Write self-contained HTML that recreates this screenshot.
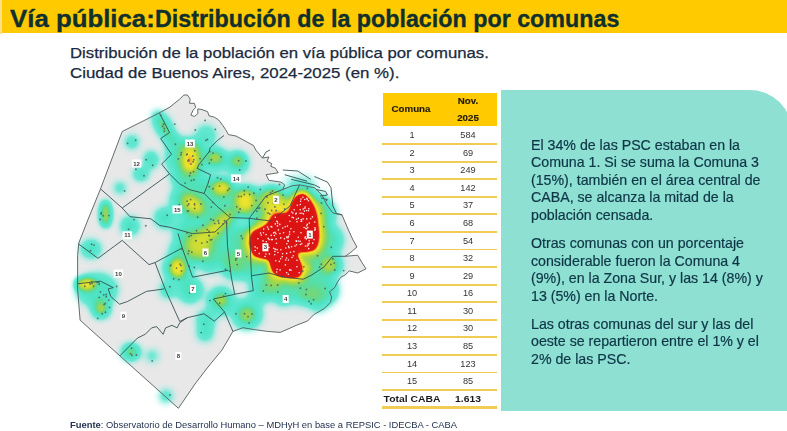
<!DOCTYPE html>
<html><head><meta charset="utf-8"><style>
html,body{margin:0;padding:0;}
body{width:787px;height:431px;position:relative;overflow:hidden;background:#fff;font-family:"Liberation Sans",sans-serif;}
.hdr{position:absolute;left:0;top:0;width:787px;height:33px;background:#ffcb00;}
.hdr .edge{position:absolute;left:0;top:0;width:2px;height:33.5px;background:#fde08a;}
.t1{position:absolute;top:4.8px;-webkit-text-stroke:0.35px #10302e;left:10px;font-size:24px;font-weight:700;color:#10302e;white-space:nowrap;line-height:28px;}
.sub{position:absolute;left:70.5px;font-size:14.7px;color:#1a2a40;-webkit-text-stroke:0.25px #1a2a40;white-space:nowrap;transform-origin:0 0;line-height:18px;}
.row{position:absolute;left:383px;width:114px;font-size:8.5px;color:#333;}
.row span{position:absolute;top:50%;transform:translate(-50%,-50%) scaleX(1.08);white-space:nowrap;line-height:10px;}
.c1{left:29px;} .c2{left:85px;}
.tot{font-weight:700;color:#1a1a1a;font-size:9.6px;}
.tot .c1{left:28.5px;}
.ln{position:absolute;left:382px;width:115px;height:1.8px;background:#efcd52;}
.th{position:absolute;left:383px;top:92.6px;width:114px;height:33.2px;background:#ffcb00;color:#241a05;font-weight:700;font-size:8.6px;}
.th span{position:absolute;transform:translate(-50%,-50%) scaleX(1.13);-webkit-text-stroke:0.15px #241a05;white-space:nowrap;line-height:10px;}
.box{position:absolute;left:501px;top:90.4px;width:291px;height:320.6px;background:#8ee0d3;border-top-right-radius:42px;}
.p{position:absolute;left:531px;font-size:14.2px;color:#0f3646;-webkit-text-stroke:0.2px #0f3646;white-space:nowrap;line-height:17.5px;}
.foot{position:absolute;left:70px;top:418.8px;font-size:9.4px;color:#243350;white-space:nowrap;line-height:12px;}
svg text{font-family:"Liberation Sans",sans-serif;}
</style></head><body>
<div class="hdr"><div class="edge"></div></div>
<div class="t1" style="left:10px;transform:scaleX(1.075);transform-origin:0 0">Vía pública:</div><div class="t1" style="left:155px;transform:scaleX(0.97);transform-origin:0 0">Distribución de la población por comunas</div>
<div class="sub" style="top:44px;left:69.5px;transform:scaleX(1.14)">Distribución de la población en vía pública por comunas.</div>
<div class="sub" style="top:64px;left:69.5px;transform:scaleX(1.146)">Ciudad de Buenos Aires, 2024-2025 (en %).</div>
<svg width="787" height="431" viewBox="0 0 787 431" style="position:absolute;left:0;top:0">
<defs>
<filter id="heat" x="0" y="0" width="787" height="431" filterUnits="userSpaceOnUse" color-interpolation-filters="sRGB">
<feColorMatrix type="matrix" values="0 0 0 1 0  0 0 0 1 0  0 0 0 1 0  0 0 0 1 0"/>
<feComponentTransfer>
<feFuncR type="table" tableValues="0.471 0.471 0.471 0.455 0.429 0.403 0.376 0.350 0.341 0.336 0.330 0.325 0.320 0.315 0.310 0.304 0.299 0.311 0.326 0.342 0.358 0.373 0.389 0.424 0.463 0.502 0.541 0.580 0.620 0.654 0.686 0.719 0.752 0.784 0.817 0.842 0.865 0.888 0.910 0.933 0.956 0.961 0.961 0.961 0.961 0.961 0.939 0.917 0.895 0.882 0.880 0.878 0.877 0.875 0.873 0.871 0.870 0.868 0.866 0.864 0.863"/>
<feFuncG type="table" tableValues="0.922 0.922 0.922 0.920 0.918 0.915 0.913 0.910 0.908 0.907 0.905 0.903 0.901 0.900 0.898 0.896 0.894 0.889 0.882 0.876 0.869 0.863 0.856 0.853 0.850 0.848 0.845 0.842 0.840 0.843 0.849 0.854 0.859 0.864 0.870 0.874 0.878 0.882 0.885 0.889 0.893 0.843 0.779 0.716 0.652 0.588 0.455 0.322 0.190 0.109 0.106 0.103 0.100 0.098 0.095 0.092 0.089 0.087 0.084 0.081 0.078"/>
<feFuncB type="table" tableValues="0.863 0.863 0.863 0.857 0.847 0.837 0.827 0.818 0.812 0.808 0.803 0.799 0.795 0.790 0.786 0.782 0.777 0.746 0.708 0.670 0.632 0.595 0.557 0.515 0.473 0.430 0.388 0.345 0.303 0.281 0.265 0.248 0.232 0.216 0.199 0.193 0.190 0.187 0.184 0.180 0.177 0.170 0.162 0.154 0.145 0.137 0.123 0.109 0.095 0.086 0.085 0.085 0.084 0.083 0.083 0.082 0.081 0.080 0.080 0.079 0.078"/>
<feFuncA type="table" tableValues="0.000 0.125 0.250 0.375 0.500 0.625 0.750 0.875 0.909 0.920 0.931 0.942 0.953 0.964 0.976 0.987 0.998 1.000 1.000 1.000 1.000 1.000 1.000 1.000 1.000 1.000 1.000 1.000 1.000 1.000 1.000 1.000 1.000 1.000 1.000 1.000 1.000 1.000 1.000 1.000 1.000 1.000 1.000 1.000 1.000 1.000 1.000 1.000 1.000 1.000 1.000 1.000 1.000 1.000 1.000 1.000 1.000 1.000 1.000 1.000 1.000"/>
</feComponentTransfer>
</filter>
<filter id="b5" x="0" y="0" width="787" height="431" filterUnits="userSpaceOnUse"><feGaussianBlur stdDeviation="5"/></filter>
<filter id="b4" x="0" y="0" width="787" height="431" filterUnits="userSpaceOnUse"><feGaussianBlur stdDeviation="4"/></filter>
<filter id="b3" x="0" y="0" width="787" height="431" filterUnits="userSpaceOnUse"><feGaussianBlur stdDeviation="3"/></filter>
<filter id="b35" x="0" y="0" width="787" height="431" filterUnits="userSpaceOnUse"><feGaussianBlur stdDeviation="3.5"/></filter>
<filter id="b25" x="0" y="0" width="787" height="431" filterUnits="userSpaceOnUse"><feGaussianBlur stdDeviation="2.5"/></filter>
<filter id="b2" x="0" y="0" width="787" height="431" filterUnits="userSpaceOnUse"><feGaussianBlur stdDeviation="2"/></filter>
<filter id="b15" x="0" y="0" width="787" height="431" filterUnits="userSpaceOnUse"><feGaussianBlur stdDeviation="1.5"/></filter>
<mask id="rm" maskUnits="userSpaceOnUse" x="0" y="0" width="787" height="431"><rect x="0" y="0" width="787" height="431" fill="#fff"/><path d="M300.8,195.0 L304.4,195.2 L308.8,199.4 L312.6,206.6 L315.3,216.3 L317.0,228.2 L317.5,235.9 L316.4,244.2 L313.7,249.1 L304.6,250.9 L295.2,251.7 L297.9,259.3 L300.5,265.9 L300.6,272.2 L298.5,275.5 L292.2,276.6 L280.3,275.3 L273.9,271.6 L271.4,265.2 L269.7,258.9 L262.1,257.2 L254.3,254.8 L252.0,248.5 L251.1,243.6 L252.0,235.8 L254.3,232.3 L260.9,229.7 L266.9,226.8 L271.2,220.9 L273.7,217.0 L277.3,215.9 L287.4,215.0 L290.8,211.0 L293.0,203.9 L296.2,197.4Z" fill="#000"/></mask>
</defs>
<polygon points="179.7,99.1 183.9,95 187.4,95 190.2,99.1 189.5,103.3 194.4,103.3 195.7,107.5 193,110.3 190.9,115.1 194.4,116.5 197.8,113.7 197.8,108.9 202,109.6 207.6,111.7 209,115.8 214.5,117.2 218.7,120 222.9,125.6 225.7,129.7 228.4,134.6 236,136 253.5,145.5 255.8,150 262.4,158 269,157 267,161 271.7,163.6 270.8,166.3 275.4,168.2 278.2,172.8 266.1,174.7 268.9,180.3 281,182.1 284.7,184.9 282.8,189.5 292,185.8 299.5,184.9 314.4,187.7 322,195 327,205 333,213 342,215 348,229 353,240 357,247 350,253 345.2,256.3 357.7,255.2 361.9,262.5 366,268.8 357.7,273 349.3,270.9 345.2,275 341,277.1 337.9,281.3 334.7,287.6 329.5,291.8 331.6,297 330.5,302.2 324.3,308.5 313.8,314.7 307.6,321 297,325 289,328.6 280.2,332.4 267.2,331.4 254.2,329.6 243,327.7 232.9,331.4 222,350 208,367 195,384 178.4,408.3 80.1,320.2 78.8,304.2 77.6,288.9 77.6,255.7 78.8,243 87.8,220 100.5,188.9 122.2,131.5 159.1,113 170,107" fill="#e8e8e8"/>
<g filter="url(#heat)" fill="#000"><g opacity="0.30" filter="url(#b5)"><circle cx="176" cy="146" r="9.6"/><circle cx="190" cy="157" r="18.0"/><circle cx="186" cy="175" r="14.399999999999999"/><circle cx="196" cy="168" r="9.6"/><circle cx="216" cy="159" r="10.799999999999999"/><circle cx="237" cy="163" r="10.799999999999999"/><circle cx="176" cy="160" r="9.6"/><circle cx="209" cy="188" r="12.0"/><circle cx="222" cy="192" r="14.399999999999999"/><circle cx="246" cy="203" r="16.8"/><circle cx="265" cy="204" r="15.6"/><circle cx="272" cy="198" r="9.6"/><circle cx="184" cy="200" r="13.2"/><circle cx="194" cy="205" r="18.0"/><circle cx="218" cy="215" r="16.8"/><circle cx="165" cy="218" r="9.6"/><circle cx="204" cy="245" r="21.599999999999998"/><circle cx="185" cy="232" r="10.799999999999999"/><circle cx="178" cy="268" r="14.399999999999999"/><circle cx="190" cy="290" r="12.0"/><circle cx="168" cy="290" r="7.199999999999999"/><circle cx="236" cy="262" r="16.8"/><circle cx="238" cy="238" r="13.2"/><circle cx="210" cy="262" r="9.6"/><circle cx="180" cy="250" r="9.6"/><circle cx="221" cy="301" r="13.2"/><circle cx="247" cy="314" r="14.399999999999999"/><circle cx="262" cy="290" r="12.0"/><circle cx="284" cy="294" r="10.799999999999999"/><circle cx="304" cy="290" r="14.399999999999999"/><circle cx="322" cy="290" r="15.6"/><circle cx="330" cy="265" r="12.0"/><circle cx="318" cy="302" r="8.4"/><circle cx="206" cy="320" r="8.4"/><circle cx="205" cy="333" r="7.199999999999999"/><circle cx="322" cy="214" r="13.2"/><circle cx="328" cy="240" r="14.399999999999999"/><circle cx="318" cy="263" r="14.399999999999999"/><circle cx="300" cy="283" r="13.2"/><circle cx="270" cy="283" r="13.2"/><circle cx="250" cy="268" r="12.0"/><circle cx="245" cy="240" r="10.799999999999999"/><circle cx="262" cy="222" r="10.799999999999999"/><circle cx="280" cy="208" r="12.0"/></g><path d="M299.1,186.6 L307.8,187.4 L315.6,194.2 L320.5,203.4 L323.7,214.6 L325.5,227.3 L326.0,236.3 L324.4,247.0 L318.7,256.0 L305.6,259.4 L302.4,256.3 L305.8,256.0 L308.9,264.3 L308.7,274.6 L303.2,282.5 L292.6,285.1 L277.6,283.3 L267.5,277.2 L263.3,267.7 L263.9,265.1 L259.9,265.5 L248.5,261.0 L243.9,250.8 L242.6,244.0 L244.0,232.9 L248.8,225.7 L257.5,221.9 L261.4,220.2 L264.3,216.0 L268.6,210.2 L275.6,207.5 L283.5,207.5 L283.3,207.0 L285.1,200.7 L290.1,191.4Z" opacity="0.28" filter="url(#b5)"/><g opacity="0.29" filter="url(#b4)"><ellipse cx="132" cy="142" rx="6" ry="6"/></g><g opacity="0.32" filter="url(#b4)"><ellipse cx="151" cy="160" rx="6" ry="8"/></g><g opacity="0.32" filter="url(#b4)"><ellipse cx="141" cy="174" rx="7" ry="6"/></g><g opacity="0.29" filter="url(#b4)"><ellipse cx="120" cy="188" rx="5" ry="5"/></g><g opacity="0.34" filter="url(#b4)"><ellipse cx="164" cy="127" rx="7" ry="17" transform="rotate(-30 164 127)"/></g><g opacity="0.16" filter="url(#b2)"><ellipse cx="164" cy="127" rx="2" ry="10" transform="rotate(-30 164 127)"/></g><g opacity="0.53" filter="url(#b3)"><ellipse cx="105.6" cy="214" rx="5" ry="13"/></g><g opacity="0.35" filter="url(#b5)"><ellipse cx="130" cy="226" rx="8" ry="8"/></g><g opacity="0.32" filter="url(#b5)"><ellipse cx="91" cy="249" rx="9" ry="8"/></g><g opacity="0.58" filter="url(#b3)"><ellipse cx="86" cy="284" rx="10" ry="6"/></g><g opacity="0.26" filter="url(#b5)"><ellipse cx="97" cy="290" rx="20" ry="16"/></g><g opacity="0.48" filter="url(#b4)"><ellipse cx="101" cy="309" rx="8" ry="8"/></g><g opacity="0.13" filter="url(#b2)"><ellipse cx="101" cy="309" rx="3" ry="3"/></g><g opacity="0.48" filter="url(#b4)"><ellipse cx="131" cy="352" rx="8" ry="7"/></g><g opacity="0.19" filter="url(#b4)"><ellipse cx="152" cy="356" rx="6" ry="6"/></g><g opacity="0.24" filter="url(#b4)"><ellipse cx="166" cy="396" rx="6" ry="6"/></g><g opacity="0.20" filter="url(#b5)"><ellipse cx="206" cy="136" rx="10" ry="11"/></g><g opacity="0.55" filter="url(#b4)"><ellipse cx="190" cy="159" rx="8" ry="15"/></g><g opacity="0.28" filter="url(#b3)"><ellipse cx="190" cy="161" rx="4" ry="6"/></g><g opacity="0.30" filter="url(#b3)"><ellipse cx="215" cy="157.5" rx="7" ry="6"/></g><g opacity="0.27" filter="url(#b3)"><ellipse cx="238" cy="160" rx="6" ry="6"/></g><g opacity="0.45" filter="url(#b3)"><ellipse cx="221.7" cy="188" rx="9" ry="7"/></g><g opacity="0.55" filter="url(#b4)"><ellipse cx="245" cy="201" rx="9" ry="11"/></g><g opacity="0.40" filter="url(#b4)"><ellipse cx="273.5" cy="202" rx="13" ry="14"/></g><g opacity="0.12" filter="url(#b5)"><ellipse cx="300" cy="184" rx="16" ry="8"/></g><g opacity="0.10" filter="url(#b5)"><ellipse cx="322" cy="200" rx="8" ry="8"/></g><g opacity="0.55" filter="url(#b4)"><ellipse cx="193" cy="204.5" rx="12" ry="6.5" transform="rotate(40 193 204.5)"/></g><g opacity="0.42" filter="url(#b4)"><ellipse cx="221" cy="223" rx="17" ry="6" transform="rotate(-40 221 223)"/></g><g opacity="0.30" filter="url(#b4)"><ellipse cx="210" cy="233" rx="12" ry="5"/></g><g opacity="0.38" filter="url(#b4)"><ellipse cx="199" cy="245" rx="13" ry="13"/></g><g opacity="0.55" filter="url(#b3)"><ellipse cx="177.6" cy="268" rx="7" ry="9"/></g><g opacity="0.15" filter="url(#b4)"><ellipse cx="235" cy="262" rx="10" ry="10"/></g><g opacity="0.30" filter="url(#b3)"><ellipse cx="329" cy="265" rx="8" ry="8"/></g><g opacity="0.15" filter="url(#b4)"><ellipse cx="312" cy="294" rx="12" ry="8"/></g><g opacity="0.30" filter="url(#b3)"><ellipse cx="221" cy="300" rx="6" ry="6"/></g><g opacity="0.25" filter="url(#b3)"><ellipse cx="247" cy="315" rx="7" ry="7"/></g><g opacity="0.20" filter="url(#b4)"><ellipse cx="272" cy="286" rx="8" ry="7"/></g><g opacity="0.25" filter="url(#b3)"><ellipse cx="307" cy="268" rx="5" ry="5"/></g><path d="M299.5,188.6 L307.0,189.2 L314.0,195.5 L318.6,204.1 L321.7,215.0 L323.5,227.5 L324.0,236.2 L322.5,246.3 L317.6,254.3 L305.4,257.4 L300.7,255.2 L303.9,256.8 L306.9,264.7 L306.8,274.0 L302.1,280.8 L292.5,283.1 L278.2,281.4 L269.0,275.9 L265.2,267.1 L265.2,263.6 L260.4,263.5 L249.8,259.5 L245.8,250.3 L244.6,243.9 L245.9,233.6 L250.1,227.2 L258.3,223.7 L262.7,221.8 L265.9,217.1 L269.8,211.8 L276.0,209.5 L284.4,209.3 L285.1,207.9 L287.0,201.5 L291.5,192.8Z" opacity="0.3" filter="url(#b3)"/><path d="M300.5,193.5 L305.0,193.8 L310.0,198.5 L314.0,206.0 L316.8,216.0 L318.5,228.0 L319.0,236.0 L317.8,244.7 L314.6,250.3 L304.8,252.4 L296.5,252.5 L299.3,258.7 L302.0,265.6 L302.0,272.6 L299.3,276.7 L292.3,278.1 L279.8,276.7 L272.8,272.6 L270.0,265.6 L268.7,260.0 L261.7,258.7 L253.3,255.9 L250.6,248.9 L249.6,243.7 L250.6,235.3 L253.3,231.1 L260.3,228.3 L265.9,225.6 L270.0,220.0 L272.8,215.8 L277.0,214.4 L286.7,213.7 L289.5,210.3 L291.6,203.3 L295.1,196.3Z" filter="url(#b2)"/></g>
<g fill="none" stroke="#2f4848" stroke-width="0.85" stroke-linejoin="round" mask="url(#rm)"><polyline points="159.5,113.2 169.5,132.6 160.7,138.5 171.5,154.2 161.7,164.1 169.5,173.9"/><polyline points="100.5,188.9 122.2,208 169.5,173.9"/><polyline points="122.2,208 130,216.7 150.9,218.8 159.8,225.5 169.5,227.2 192.3,233.6 215,232 230.1,217.5 249.2,218.3 271,221"/><polyline points="169.5,173.9 179.4,183.7 190,189.8 204.1,193.4 217.1,206.4 230.1,217.5"/><polyline points="224,135.5 217.5,140.4 210.1,147.8 209.2,151.6 199,164.5 197.1,168.3 210.6,174.8 207.8,184.1 204.1,193.4"/><polyline points="282.8,189.5 266,196 250.7,216.3 249.2,218.3"/><polyline points="249.2,218.3 250,240 251.4,275.8 253.3,290.6"/><polyline points="178,233.4 182.2,248 192.6,277.2 228.2,270.2"/><polyline points="226.5,220.7 227.5,246.3 231.3,277 234.7,294.3 253.3,290.6"/><polyline points="251.4,275.8 269,273 282.5,277 303.4,279.2 311.8,275 324.3,266.7 332.6,256.3 345.2,256.3"/><polyline points="271,221 290,206 299.5,184.9"/><polyline points="271,221 276,250 282.5,277"/><polyline points="234.7,294.3 213.4,299 224.5,312 232.9,331.4"/><polyline points="187.3,317.7 204.1,313.8 214.3,321.2 224.5,312"/><polyline points="155,262.6 165.5,290 171.9,304.2 179.7,321.5 187.3,317.7"/><polyline points="78.8,244.2 98,258.3 122.2,240.4 149,264.6 155,262.6 182.2,248"/><polyline points="77.6,283.8 100.5,281.2 113.3,287.6 108.2,288.9 110.7,296.5 119.6,304.2 127.3,301.6 146.4,291.4 164.3,288.9"/><polyline points="119.7,356 137.5,338 145.2,334.3 151.6,327.9 156.7,326.6 163.1,334.3 165.6,327.9 172,325.3 177.1,327.9 179.7,322.8 187.3,317.7"/><polyline points="282.8,170 297.7,171 310.7,179.3"/><polyline points="284.7,174.7 307,181.2"/><polyline points="291.2,179.3 314.4,184.9 320,187.7"/><polyline points="316,189.5 325.5,191.4 327.4,195 320,196"/><polyline points="321,197.9 327.4,199.7 325.5,201.6"/><polyline points="314.4,176.5 327.4,182.1 331,187.7 332.9,206.2 336.6,213.7 342.2,214.6"/><polyline points="262.4,158 266,152 270,150"/></g>
<polygon points="179.7,99.1 183.9,95 187.4,95 190.2,99.1 189.5,103.3 194.4,103.3 195.7,107.5 193,110.3 190.9,115.1 194.4,116.5 197.8,113.7 197.8,108.9 202,109.6 207.6,111.7 209,115.8 214.5,117.2 218.7,120 222.9,125.6 225.7,129.7 228.4,134.6 236,136 253.5,145.5 255.8,150 262.4,158 269,157 267,161 271.7,163.6 270.8,166.3 275.4,168.2 278.2,172.8 266.1,174.7 268.9,180.3 281,182.1 284.7,184.9 282.8,189.5 292,185.8 299.5,184.9 314.4,187.7 322,195 327,205 333,213 342,215 348,229 353,240 357,247 350,253 345.2,256.3 357.7,255.2 361.9,262.5 366,268.8 357.7,273 349.3,270.9 345.2,275 341,277.1 337.9,281.3 334.7,287.6 329.5,291.8 331.6,297 330.5,302.2 324.3,308.5 313.8,314.7 307.6,321 297,325 289,328.6 280.2,332.4 267.2,331.4 254.2,329.6 243,327.7 232.9,331.4 222,350 208,367 195,384 178.4,408.3 80.1,320.2 78.8,304.2 77.6,288.9 77.6,255.7 78.8,243 87.8,220 100.5,188.9 122.2,131.5 159.1,113 170,107" fill="none" stroke="#555c5c" stroke-width="0.9" stroke-linejoin="round"/>
<g fill="#4a5e5e" opacity="0.8"><circle cx="127.6" cy="143.4" r="0.95"/><circle cx="135.6" cy="140.2" r="0.95"/><circle cx="146.2" cy="159.7" r="0.95"/><circle cx="152.7" cy="165.3" r="0.95"/><circle cx="135.9" cy="169.3" r="0.95"/><circle cx="144.0" cy="175.7" r="0.95"/><circle cx="124.6" cy="190.9" r="0.95"/><circle cx="163.6" cy="124.2" r="0.95"/><circle cx="174.8" cy="124.1" r="0.95"/><circle cx="160.7" cy="115.4" r="0.95"/><circle cx="164.4" cy="128.5" r="0.95"/><circle cx="162.6" cy="126.4" r="0.95"/><circle cx="164.3" cy="131.2" r="0.95"/><circle cx="108.9" cy="215.6" r="0.95"/><circle cx="100.2" cy="219.5" r="0.95"/><circle cx="101.3" cy="212.7" r="0.95"/><circle cx="101.2" cy="214.0" r="0.95"/><circle cx="103.3" cy="215.7" r="0.95"/><circle cx="145.8" cy="225.8" r="0.95"/><circle cx="134.0" cy="219.6" r="0.95"/><circle cx="128.6" cy="229.2" r="0.95"/><circle cx="90.5" cy="250.8" r="0.95"/><circle cx="91.6" cy="244.2" r="0.95"/><circle cx="94.0" cy="245.1" r="0.95"/><circle cx="97.2" cy="282.2" r="0.95"/><circle cx="90.1" cy="284.0" r="0.95"/><circle cx="91.7" cy="281.8" r="0.95"/><circle cx="92.0" cy="283.6" r="0.95"/><circle cx="93.6" cy="286.2" r="0.95"/><circle cx="98.7" cy="282.5" r="0.95"/><circle cx="106.2" cy="294.5" r="0.95"/><circle cx="116.7" cy="286.4" r="0.95"/><circle cx="103.7" cy="294.9" r="0.95"/><circle cx="100.4" cy="292.0" r="0.95"/><circle cx="99.2" cy="284.3" r="0.95"/><circle cx="84.8" cy="286.2" r="0.95"/><circle cx="104.1" cy="304.5" r="0.95"/><circle cx="108.7" cy="300.1" r="0.95"/><circle cx="106.3" cy="296.7" r="0.95"/><circle cx="99.2" cy="297.4" r="0.95"/><circle cx="109.5" cy="307.4" r="0.95"/><circle cx="97.7" cy="318.4" r="0.95"/><circle cx="102.2" cy="313.7" r="0.95"/><circle cx="105.2" cy="303.5" r="0.95"/><circle cx="105.4" cy="312.2" r="0.95"/><circle cx="131.8" cy="355.2" r="0.95"/><circle cx="131.6" cy="348.3" r="0.95"/><circle cx="130.5" cy="353.6" r="0.95"/><circle cx="136.4" cy="355.0" r="0.95"/><circle cx="152.2" cy="360.9" r="0.95"/><circle cx="170.0" cy="394.9" r="0.95"/><circle cx="195.3" cy="130.0" r="0.95"/><circle cx="207.4" cy="139.5" r="0.95"/><circle cx="215.3" cy="129.4" r="0.95"/><circle cx="206.0" cy="140.3" r="0.95"/><circle cx="205.1" cy="120.4" r="0.95"/><circle cx="193.9" cy="179.8" r="0.95"/><circle cx="194.8" cy="150.7" r="0.95"/><circle cx="188.0" cy="161.0" r="0.95"/><circle cx="201.9" cy="164.6" r="0.95"/><circle cx="190.5" cy="173.0" r="0.95"/><circle cx="189.6" cy="175.8" r="0.95"/><circle cx="186.7" cy="154.7" r="0.95"/><circle cx="193.5" cy="171.8" r="0.95"/><circle cx="193.1" cy="161.7" r="0.95"/><circle cx="181.3" cy="152.6" r="0.95"/><circle cx="187.1" cy="154.2" r="0.95"/><circle cx="192.8" cy="156.0" r="0.95"/><circle cx="193.8" cy="159.7" r="0.95"/><circle cx="188.4" cy="160.1" r="0.95"/><circle cx="191.0" cy="164.1" r="0.95"/><circle cx="188.9" cy="160.2" r="0.95"/><circle cx="209.3" cy="163.3" r="0.95"/><circle cx="221.1" cy="156.9" r="0.95"/><circle cx="213.0" cy="153.1" r="0.95"/><circle cx="238.6" cy="160.7" r="0.95"/><circle cx="245.9" cy="160.9" r="0.95"/><circle cx="217.5" cy="177.7" r="0.95"/><circle cx="229.3" cy="188.8" r="0.95"/><circle cx="213.0" cy="188.8" r="0.95"/><circle cx="213.0" cy="202.6" r="0.95"/><circle cx="227.7" cy="190.4" r="0.95"/><circle cx="220.8" cy="179.0" r="0.95"/><circle cx="244.3" cy="190.7" r="0.95"/><circle cx="248.2" cy="186.9" r="0.95"/><circle cx="240.1" cy="209.0" r="0.95"/><circle cx="253.9" cy="193.2" r="0.95"/><circle cx="236.7" cy="206.8" r="0.95"/><circle cx="249.6" cy="194.5" r="0.95"/><circle cx="241.3" cy="196.4" r="0.95"/><circle cx="238.6" cy="196.5" r="0.95"/><circle cx="251.8" cy="205.6" r="0.95"/><circle cx="256.1" cy="200.4" r="0.95"/><circle cx="244.3" cy="194.5" r="0.95"/><circle cx="272.5" cy="191.0" r="0.95"/><circle cx="259.6" cy="207.9" r="0.95"/><circle cx="284.7" cy="209.0" r="0.95"/><circle cx="283.9" cy="204.1" r="0.95"/><circle cx="267.9" cy="202.7" r="0.95"/><circle cx="270.6" cy="192.7" r="0.95"/><circle cx="260.3" cy="189.5" r="0.95"/><circle cx="273.5" cy="203.3" r="0.95"/><circle cx="269.8" cy="214.0" r="0.95"/><circle cx="274.9" cy="206.9" r="0.95"/><circle cx="283.0" cy="195.1" r="0.95"/><circle cx="258.1" cy="208.3" r="0.95"/><circle cx="268.1" cy="213.0" r="0.95"/><circle cx="276.1" cy="210.5" r="0.95"/><circle cx="279.5" cy="184.5" r="0.95"/><circle cx="307.4" cy="188.2" r="0.95"/><circle cx="321.5" cy="202.9" r="0.95"/><circle cx="187.5" cy="205.5" r="0.95"/><circle cx="194.7" cy="208.4" r="0.95"/><circle cx="187.1" cy="201.3" r="0.95"/><circle cx="187.5" cy="211.3" r="0.95"/><circle cx="200.9" cy="204.0" r="0.95"/><circle cx="194.6" cy="204.9" r="0.95"/><circle cx="194.5" cy="203.7" r="0.95"/><circle cx="190.6" cy="199.6" r="0.95"/><circle cx="188.4" cy="210.9" r="0.95"/><circle cx="226.5" cy="223.2" r="0.95"/><circle cx="218.8" cy="223.2" r="0.95"/><circle cx="224.6" cy="220.7" r="0.95"/><circle cx="223.0" cy="223.9" r="0.95"/><circle cx="213.4" cy="220.2" r="0.95"/><circle cx="210.8" cy="219.2" r="0.95"/><circle cx="230.1" cy="214.5" r="0.95"/><circle cx="218.3" cy="220.8" r="0.95"/><circle cx="214.7" cy="223.4" r="0.95"/><circle cx="218.1" cy="233.2" r="0.95"/><circle cx="209.0" cy="231.2" r="0.95"/><circle cx="209.1" cy="235.7" r="0.95"/><circle cx="207.2" cy="229.6" r="0.95"/><circle cx="189.1" cy="236.4" r="0.95"/><circle cx="188.2" cy="253.6" r="0.95"/><circle cx="201.8" cy="243.1" r="0.95"/><circle cx="210.4" cy="239.9" r="0.95"/><circle cx="204.9" cy="251.2" r="0.95"/><circle cx="186.9" cy="232.9" r="0.95"/><circle cx="191.8" cy="252.1" r="0.95"/><circle cx="209.1" cy="235.4" r="0.95"/><circle cx="207.2" cy="242.0" r="0.95"/><circle cx="195.9" cy="240.7" r="0.95"/><circle cx="196.5" cy="230.8" r="0.95"/><circle cx="191.2" cy="235.4" r="0.95"/><circle cx="202.8" cy="261.3" r="0.95"/><circle cx="189.1" cy="266.2" r="0.95"/><circle cx="170.4" cy="265.8" r="0.95"/><circle cx="173.7" cy="278.7" r="0.95"/><circle cx="180.0" cy="264.1" r="0.95"/><circle cx="181.5" cy="270.9" r="0.95"/><circle cx="170.8" cy="265.1" r="0.95"/><circle cx="176.6" cy="268.1" r="0.95"/><circle cx="235.8" cy="260.0" r="0.95"/><circle cx="236.1" cy="258.5" r="0.95"/><circle cx="229.6" cy="271.1" r="0.95"/><circle cx="237.2" cy="264.6" r="0.95"/><circle cx="321.3" cy="264.2" r="0.95"/><circle cx="332.9" cy="258.8" r="0.95"/><circle cx="334.3" cy="263.1" r="0.95"/><circle cx="330.9" cy="264.4" r="0.95"/><circle cx="313.6" cy="299.8" r="0.95"/><circle cx="309.1" cy="301.5" r="0.95"/><circle cx="306.4" cy="289.5" r="0.95"/><circle cx="223.6" cy="296.2" r="0.95"/><circle cx="219.7" cy="303.3" r="0.95"/><circle cx="225.4" cy="293.6" r="0.95"/><circle cx="249.1" cy="322.9" r="0.95"/><circle cx="252.0" cy="314.0" r="0.95"/><circle cx="244.5" cy="313.8" r="0.95"/><circle cx="266.5" cy="284.9" r="0.95"/><circle cx="271.1" cy="285.4" r="0.95"/><circle cx="277.7" cy="285.0" r="0.95"/><circle cx="302.6" cy="271.2" r="0.95"/><circle cx="303.8" cy="266.7" r="0.95"/><circle cx="175.4" cy="144.3" r="0.95"/><circle cx="181.0" cy="154.8" r="0.95"/><circle cx="209.7" cy="151.5" r="0.95"/><circle cx="185.0" cy="183.1" r="0.95"/><circle cx="191.4" cy="180.5" r="0.95"/><circle cx="200.1" cy="158.6" r="0.95"/><circle cx="211.3" cy="159.7" r="0.95"/><circle cx="239.7" cy="170.0" r="0.95"/><circle cx="178.3" cy="158.9" r="0.95"/><circle cx="209.2" cy="186.7" r="0.95"/><circle cx="223.8" cy="196.9" r="0.95"/><circle cx="219.6" cy="186.1" r="0.95"/><circle cx="238.8" cy="212.2" r="0.95"/><circle cx="256.8" cy="211.3" r="0.95"/><circle cx="271.7" cy="210.5" r="0.95"/><circle cx="265.0" cy="209.2" r="0.95"/><circle cx="266.9" cy="197.0" r="0.95"/><circle cx="179.2" cy="204.8" r="0.95"/><circle cx="188.8" cy="204.0" r="0.95"/><circle cx="197.6" cy="217.2" r="0.95"/><circle cx="211.3" cy="207.1" r="0.95"/><circle cx="224.9" cy="205.7" r="0.95"/><circle cx="167.2" cy="215.3" r="0.95"/><circle cx="202.9" cy="225.3" r="0.95"/><circle cx="211.7" cy="239.6" r="0.95"/><circle cx="194.3" cy="267.4" r="0.95"/><circle cx="188.8" cy="250.9" r="0.95"/><circle cx="180.9" cy="265.5" r="0.95"/><circle cx="178.8" cy="279.6" r="0.95"/><circle cx="189.8" cy="292.7" r="0.95"/><circle cx="169.9" cy="286.7" r="0.95"/><circle cx="237.1" cy="257.8" r="0.95"/><circle cx="225.5" cy="269.3" r="0.95"/><circle cx="242.4" cy="238.5" r="0.95"/><circle cx="205.6" cy="252.4" r="0.95"/><circle cx="182.3" cy="249.5" r="0.95"/><circle cx="209.9" cy="300.6" r="0.95"/><circle cx="236.0" cy="313.8" r="0.95"/><circle cx="248.0" cy="316.6" r="0.95"/><circle cx="263.3" cy="291.0" r="0.95"/><circle cx="277.8" cy="291.9" r="0.95"/><circle cx="300.3" cy="288.3" r="0.95"/><circle cx="305.9" cy="294.5" r="0.95"/><circle cx="334.8" cy="270.0" r="0.95"/><circle cx="325.1" cy="288.5" r="0.95"/><circle cx="343.7" cy="270.6" r="0.95"/><circle cx="311.1" cy="303.7" r="0.95"/><circle cx="203.8" cy="324.2" r="0.95"/><circle cx="201.2" cy="332.6" r="0.95"/><circle cx="321.1" cy="213.4" r="0.95"/><circle cx="323.8" cy="226.8" r="0.95"/><circle cx="331.3" cy="247.2" r="0.95"/><circle cx="317.5" cy="255.7" r="0.95"/><circle cx="319.5" cy="267.1" r="0.95"/><circle cx="298.8" cy="282.9" r="0.95"/><circle cx="246.7" cy="256.6" r="0.95"/><circle cx="241.2" cy="236.0" r="0.95"/><circle cx="256.8" cy="218.3" r="0.95"/></g>
<g fill="#fff" opacity="0.9"><circle cx="307.7" cy="227.5" r="0.8"/><circle cx="304.1" cy="227.5" r="0.8"/><circle cx="301.0" cy="199.0" r="0.8"/><circle cx="273.6" cy="232.9" r="0.8"/><circle cx="295.0" cy="246.0" r="0.8"/><circle cx="297.0" cy="221.7" r="0.8"/><circle cx="296.5" cy="241.4" r="0.8"/><circle cx="287.4" cy="226.1" r="0.8"/><circle cx="293.3" cy="255.8" r="0.8"/><circle cx="267.5" cy="227.1" r="0.8"/><circle cx="288.6" cy="236.2" r="0.8"/><circle cx="307.3" cy="199.5" r="0.8"/><circle cx="292.0" cy="257.5" r="0.8"/><circle cx="260.5" cy="233.1" r="0.8"/><circle cx="261.2" cy="235.1" r="0.8"/><circle cx="286.9" cy="243.8" r="0.8"/><circle cx="275.3" cy="217.3" r="0.8"/><circle cx="296.2" cy="240.7" r="0.8"/><circle cx="269.4" cy="253.9" r="0.8"/><circle cx="277.1" cy="269.3" r="0.8"/><circle cx="302.9" cy="197.3" r="0.8"/><circle cx="279.9" cy="233.6" r="0.8"/><circle cx="286.7" cy="272.7" r="0.8"/><circle cx="301.0" cy="232.8" r="0.8"/><circle cx="293.9" cy="231.7" r="0.8"/><circle cx="280.9" cy="249.8" r="0.8"/><circle cx="290.9" cy="228.7" r="0.8"/><circle cx="305.0" cy="238.1" r="0.8"/><circle cx="301.9" cy="213.3" r="0.8"/><circle cx="305.5" cy="246.1" r="0.8"/><circle cx="298.3" cy="241.0" r="0.8"/><circle cx="291.6" cy="246.8" r="0.8"/><circle cx="303.2" cy="209.1" r="0.8"/><circle cx="268.5" cy="229.1" r="0.8"/><circle cx="255.2" cy="250.5" r="0.8"/><circle cx="288.6" cy="246.6" r="0.8"/><circle cx="275.9" cy="233.7" r="0.8"/><circle cx="307.3" cy="246.0" r="0.8"/><circle cx="304.4" cy="211.1" r="0.8"/><circle cx="307.3" cy="224.4" r="0.8"/><circle cx="272.4" cy="239.6" r="0.8"/><circle cx="279.8" cy="224.4" r="0.8"/><circle cx="289.6" cy="234.2" r="0.8"/><circle cx="298.3" cy="218.4" r="0.8"/><circle cx="304.8" cy="199.5" r="0.8"/><circle cx="264.4" cy="249.3" r="0.8"/><circle cx="274.8" cy="254.7" r="0.8"/><circle cx="300.1" cy="241.4" r="0.8"/><circle cx="314.8" cy="230.2" r="0.8"/><circle cx="306.8" cy="218.9" r="0.8"/><circle cx="271.9" cy="227.0" r="0.8"/><circle cx="275.3" cy="223.9" r="0.8"/><circle cx="277.5" cy="225.9" r="0.8"/><circle cx="263.0" cy="240.9" r="0.8"/><circle cx="306.4" cy="238.9" r="0.8"/><circle cx="309.2" cy="240.8" r="0.8"/><circle cx="312.4" cy="216.9" r="0.8"/><circle cx="288.2" cy="241.2" r="0.8"/><circle cx="306.9" cy="198.4" r="0.8"/><circle cx="288.4" cy="260.0" r="0.8"/><circle cx="255.1" cy="246.9" r="0.8"/><circle cx="295.7" cy="213.9" r="0.8"/><circle cx="286.6" cy="258.0" r="0.8"/><circle cx="277.4" cy="221.7" r="0.8"/><circle cx="284.5" cy="238.7" r="0.8"/><circle cx="314.9" cy="227.9" r="0.8"/><circle cx="286.7" cy="253.4" r="0.8"/><circle cx="306.8" cy="228.8" r="0.8"/><circle cx="263.7" cy="229.1" r="0.8"/><circle cx="257.3" cy="248.1" r="0.8"/><circle cx="304.9" cy="208.3" r="0.8"/><circle cx="291.1" cy="270.3" r="0.8"/><circle cx="265.9" cy="254.0" r="0.8"/><circle cx="291.8" cy="212.0" r="0.8"/><circle cx="271.4" cy="239.6" r="0.8"/><circle cx="307.8" cy="233.8" r="0.8"/><circle cx="314.8" cy="222.1" r="0.8"/><circle cx="288.4" cy="274.3" r="0.8"/><circle cx="306.7" cy="225.7" r="0.8"/><circle cx="287.0" cy="236.8" r="0.8"/><circle cx="296.3" cy="213.2" r="0.8"/><circle cx="275.8" cy="260.7" r="0.8"/><circle cx="300.4" cy="244.5" r="0.8"/><circle cx="311.6" cy="236.9" r="0.8"/><circle cx="268.2" cy="238.4" r="0.8"/><circle cx="300.6" cy="201.3" r="0.8"/><circle cx="283.6" cy="232.8" r="0.8"/><circle cx="310.7" cy="218.8" r="0.8"/><circle cx="305.8" cy="228.4" r="0.8"/><circle cx="308.5" cy="210.7" r="0.8"/><circle cx="288.1" cy="237.7" r="0.8"/><circle cx="282.6" cy="253.8" r="0.8"/><circle cx="274.9" cy="251.4" r="0.8"/><circle cx="308.7" cy="248.6" r="0.8"/><circle cx="300.1" cy="213.2" r="0.8"/><circle cx="289.6" cy="231.9" r="0.8"/><circle cx="306.6" cy="210.6" r="0.8"/><circle cx="293.4" cy="217.7" r="0.8"/><circle cx="276.1" cy="238.9" r="0.8"/><circle cx="277.2" cy="249.7" r="0.8"/><circle cx="301.7" cy="221.0" r="0.8"/><circle cx="301.1" cy="221.2" r="0.8"/><circle cx="308.5" cy="200.8" r="0.8"/><circle cx="309.3" cy="243.4" r="0.8"/><circle cx="315.3" cy="229.3" r="0.8"/><circle cx="285.8" cy="248.0" r="0.8"/><circle cx="276.8" cy="221.2" r="0.8"/><circle cx="277.9" cy="252.5" r="0.8"/><circle cx="296.5" cy="244.7" r="0.8"/><circle cx="273.6" cy="248.3" r="0.8"/><circle cx="285.7" cy="260.0" r="0.8"/><circle cx="308.4" cy="245.0" r="0.8"/><circle cx="314.0" cy="239.6" r="0.8"/><circle cx="274.4" cy="235.5" r="0.8"/><circle cx="259.2" cy="253.6" r="0.8"/><circle cx="294.2" cy="209.8" r="0.8"/><circle cx="290.5" cy="252.3" r="0.8"/><circle cx="275.0" cy="232.4" r="0.8"/><circle cx="288.1" cy="240.7" r="0.8"/><circle cx="289.3" cy="215.5" r="0.8"/><circle cx="307.9" cy="244.1" r="0.8"/><circle cx="266.3" cy="241.8" r="0.8"/><circle cx="308.8" cy="208.8" r="0.8"/><circle cx="296.4" cy="219.2" r="0.8"/><circle cx="276.5" cy="243.3" r="0.8"/><circle cx="263.4" cy="232.8" r="0.8"/><circle cx="289.9" cy="221.2" r="0.8"/><circle cx="297.3" cy="205.3" r="0.8"/><circle cx="282.8" cy="228.0" r="0.8"/><circle cx="293.9" cy="251.6" r="0.8"/><circle cx="278.4" cy="229.9" r="0.8"/><circle cx="289.7" cy="269.9" r="0.8"/><circle cx="286.9" cy="237.6" r="0.8"/><circle cx="280.1" cy="269.9" r="0.8"/><circle cx="301.7" cy="243.8" r="0.8"/><circle cx="303.1" cy="218.9" r="0.8"/><circle cx="285.2" cy="226.7" r="0.8"/><circle cx="271.1" cy="226.6" r="0.8"/><circle cx="296.9" cy="266.7" r="0.8"/><circle cx="279.3" cy="261.4" r="0.8"/><circle cx="265.0" cy="256.5" r="0.8"/><circle cx="289.8" cy="269.8" r="0.8"/><circle cx="257.9" cy="238.7" r="0.8"/><circle cx="277.6" cy="223.3" r="0.8"/><circle cx="271.2" cy="235.4" r="0.8"/><circle cx="309.3" cy="223.1" r="0.8"/><circle cx="263.5" cy="246.8" r="0.8"/><circle cx="301.3" cy="219.6" r="0.8"/><circle cx="300.3" cy="204.5" r="0.8"/><circle cx="299.1" cy="272.7" r="0.8"/><circle cx="300.2" cy="209.7" r="0.8"/><circle cx="296.9" cy="260.2" r="0.8"/><circle cx="275.8" cy="249.3" r="0.8"/><circle cx="312.7" cy="243.1" r="0.8"/><circle cx="268.9" cy="247.4" r="0.8"/><circle cx="280.7" cy="237.9" r="0.8"/><circle cx="292.2" cy="217.2" r="0.8"/><circle cx="303.4" cy="213.9" r="0.8"/><circle cx="269.1" cy="239.6" r="0.8"/><circle cx="282.2" cy="256.8" r="0.8"/><circle cx="276.7" cy="272.0" r="0.8"/><circle cx="289.0" cy="247.8" r="0.8"/><circle cx="274.9" cy="249.0" r="0.8"/><circle cx="305.4" cy="236.9" r="0.8"/><circle cx="285.4" cy="264.9" r="0.8"/><circle cx="298.3" cy="237.2" r="0.8"/><circle cx="305.1" cy="207.0" r="0.8"/><circle cx="292.8" cy="213.0" r="0.8"/><circle cx="280.7" cy="258.7" r="0.8"/><circle cx="266.0" cy="234.6" r="0.8"/></g>
<g font-family="Liberation Sans" font-size="6" font-weight="700" fill="#3a3a3a"><rect x="185.2" y="139.5" width="9.6" height="8" fill="#fff"/><text x="190" y="145.6" text-anchor="middle">13</text><rect x="131.8" y="159.5" width="9.6" height="8" fill="#fff"/><text x="136.6" y="165.6" text-anchor="middle">12</text><rect x="231.2" y="174.4" width="9.6" height="8" fill="#fff"/><text x="236" y="180.5" text-anchor="middle">14</text><rect x="273.0" y="195.8" width="6.0" height="8" fill="#fff"/><text x="276" y="201.9" text-anchor="middle">2</text><rect x="172.5" y="205.5" width="9.6" height="8" fill="#fff"/><text x="177.3" y="211.6" text-anchor="middle">15</text><rect x="122.5" y="231.3" width="9.6" height="8" fill="#fff"/><text x="127.3" y="237.4" text-anchor="middle">11</text><rect x="202.5" y="248.5" width="6.0" height="8" fill="#fff"/><text x="205.5" y="254.6" text-anchor="middle">6</text><rect x="235.4" y="249.5" width="6.0" height="8" fill="#fff"/><text x="238.4" y="255.6" text-anchor="middle">5</text><rect x="262.4" y="243.3" width="6.0" height="8" fill="#fff"/><text x="265.4" y="249.4" text-anchor="middle">3</text><rect x="306.8" y="230.6" width="6.0" height="8" fill="#fff"/><text x="309.8" y="236.7" text-anchor="middle">1</text><rect x="113.6" y="269.6" width="9.6" height="8" fill="#fff"/><text x="118.4" y="275.7" text-anchor="middle">10</text><rect x="190.0" y="285.0" width="6.0" height="8" fill="#fff"/><text x="193" y="291.1" text-anchor="middle">7</text><rect x="282.7" y="295.0" width="6.0" height="8" fill="#fff"/><text x="285.7" y="301.1" text-anchor="middle">4</text><rect x="120.5" y="311.7" width="6.0" height="8" fill="#fff"/><text x="123.5" y="317.8" text-anchor="middle">9</text><rect x="175.4" y="352.0" width="6.0" height="8" fill="#fff"/><text x="178.4" y="358.1" text-anchor="middle">8</text></g>
</svg>
<div class="th"><span style="left:28px;top:16.6px">Comuna</span><span style="left:85px;top:8.5px">Nov.</span><span style="left:85px;top:25px">2025</span></div>
<div class="row" style="top:125.80px;height:18.20px"><span class="c1">1</span><span class="c2">584</span></div><div class="ln" style="top:143.20px"></div><div class="row" style="top:144.00px;height:17.57px"><span class="c1">2</span><span class="c2">69</span></div><div class="ln" style="top:160.77px"></div><div class="row" style="top:161.57px;height:17.57px"><span class="c1">3</span><span class="c2">249</span></div><div class="ln" style="top:178.34px"></div><div class="row" style="top:179.14px;height:17.57px"><span class="c1">4</span><span class="c2">142</span></div><div class="ln" style="top:195.91px"></div><div class="row" style="top:196.71px;height:17.57px"><span class="c1">5</span><span class="c2">37</span></div><div class="ln" style="top:213.48px"></div><div class="row" style="top:214.28px;height:17.57px"><span class="c1">6</span><span class="c2">68</span></div><div class="ln" style="top:231.05px"></div><div class="row" style="top:231.85px;height:17.57px"><span class="c1">7</span><span class="c2">54</span></div><div class="ln" style="top:248.62px"></div><div class="row" style="top:249.42px;height:17.57px"><span class="c1">8</span><span class="c2">32</span></div><div class="ln" style="top:266.19px"></div><div class="row" style="top:266.99px;height:17.57px"><span class="c1">9</span><span class="c2">29</span></div><div class="ln" style="top:283.76px"></div><div class="row" style="top:284.56px;height:17.57px"><span class="c1">10</span><span class="c2">16</span></div><div class="ln" style="top:301.33px"></div><div class="row" style="top:302.13px;height:17.57px"><span class="c1">11</span><span class="c2">30</span></div><div class="ln" style="top:318.90px"></div><div class="row" style="top:319.70px;height:17.57px"><span class="c1">12</span><span class="c2">30</span></div><div class="ln" style="top:336.47px"></div><div class="row" style="top:337.27px;height:17.57px"><span class="c1">13</span><span class="c2">85</span></div><div class="ln" style="top:354.04px"></div><div class="row" style="top:354.84px;height:17.57px"><span class="c1">14</span><span class="c2">123</span></div><div class="ln" style="top:371.61px"></div><div class="row" style="top:372.41px;height:17.57px"><span class="c1">15</span><span class="c2">85</span></div><div class="ln" style="top:389.18px"></div><div class="row tot" style="top:389.98px;height:17.57px"><span class="c1">Total CABA</span><span class="c2">1.613</span></div><div class="ln" style="top:406.35px;height:2.6px"></div>
<div class="box"></div>
<div class="p" style="top:136.5px">El 34% de las PSC estaban en la<br>Comuna 1. Si se suma la Comuna 3<br>(15%), también en el área central de<br>CABA, se alcanza la mitad de la<br>población censada.</div>
<div class="p" style="top:235.2px">Otras comunas con un porcentaje<br>considerable fueron la Comuna 4<br>(9%), en la Zona Sur, y las 14 (8%) y<br>13 (5%) en la Norte.</div>
<div class="p" style="top:315.6px">Las otras comunas del sur y las del<br>oeste se repartieron entre el 1% y el<br>2% de las PSC.</div>
<div class="foot"><b>Fuente</b>: Observatorio de Desarrollo Humano – MDHyH en base a REPSIC - IDECBA - CABA</div>
</body></html>
